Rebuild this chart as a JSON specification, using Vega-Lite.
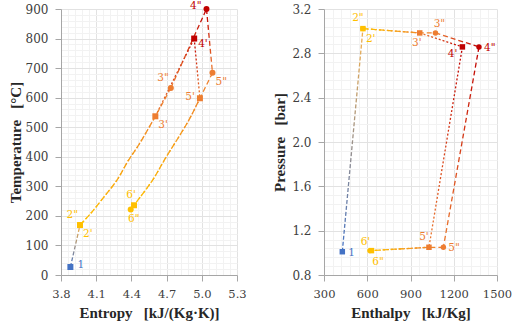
{
  "$schema": "https://vega.github.io/schema/vega-lite/v6.json",
  "padding": {"left": 8, "top": 1, "right": 5, "bottom": 5},
  "spacing": 25,
  "config": {
    "view": {"stroke": null},
    "style": {"guide-label": {"font": "DejaVu Serif", "fontSize": 12, "fill": "#404040"}, "guide-title": {"font": "Liberation Serif", "fontSize": 15, "fontWeight": "bold", "fill": "#262626"}},
    "axis": {
      "domainColor": "#a6a6a6", "tickColor": "#a6a6a6", "tickSize": 6,
      "labelFont": "DejaVu Serif", "labelFontSize": 12, "labelColor": "#404040",
      "titleFont": "Liberation Serif", "titleFontSize": 15, "titleFontWeight": "bold", "titleColor": "#262626",
      "labelOverlap": false, "labelFlush": false
    },
    "text": {"font": "DejaVu Serif", "fontSize": 10.5, "baseline": "middle"}
  },
  "datasets": {
    "ts_lines": [
      {"seg": "a", "path": "c", "o": 1, "s": 3.880, "T": 27},
      {"seg": "a", "path": "c", "o": 2, "s": 3.962, "T": 169},
      {"seg": "b", "path": "p", "o": 1, "s": 3.962, "T": 169},
      {"seg": "b", "path": "p", "o": 2, "s": 4.05, "T": 207},
      {"seg": "b", "path": "p", "o": 3, "s": 4.15, "T": 256},
      {"seg": "b", "path": "p", "o": 4, "s": 4.28, "T": 323},
      {"seg": "b", "path": "p", "o": 5, "s": 4.37, "T": 385},
      {"seg": "b", "path": "p", "o": 6, "s": 4.47, "T": 445},
      {"seg": "b", "path": "p", "o": 7, "s": 4.604, "T": 537},
      {"seg": "b", "path": "d", "o": 1, "s": 3.962, "T": 169},
      {"seg": "b", "path": "d", "o": 2, "s": 4.05, "T": 207},
      {"seg": "b", "path": "d", "o": 3, "s": 4.15, "T": 256},
      {"seg": "b", "path": "d", "o": 4, "s": 4.28, "T": 323},
      {"seg": "b", "path": "d", "o": 5, "s": 4.37, "T": 385},
      {"seg": "b", "path": "d", "o": 6, "s": 4.47, "T": 445},
      {"seg": "b", "path": "d", "o": 7, "s": 4.604, "T": 537},
      {"seg": "b", "path": "d", "o": 8, "s": 4.736, "T": 633},
      {"seg": "c", "path": "p", "o": 1, "s": 4.604, "T": 537},
      {"seg": "c", "path": "p", "o": 2, "s": 4.935, "T": 800},
      {"seg": "c", "path": "d", "o": 1, "s": 4.736, "T": 633},
      {"seg": "c", "path": "d", "o": 2, "s": 5.040, "T": 900},
      {"seg": "d", "path": "p", "o": 1, "s": 4.935, "T": 800},
      {"seg": "d", "path": "p", "o": 2, "s": 4.984, "T": 598},
      {"seg": "d", "path": "d", "o": 1, "s": 5.040, "T": 900},
      {"seg": "d", "path": "d", "o": 2, "s": 5.091, "T": 684},
      {"seg": "e", "path": "p", "o": 1, "s": 4.984, "T": 598},
      {"seg": "e", "path": "p", "o": 2, "s": 4.884, "T": 520},
      {"seg": "e", "path": "p", "o": 3, "s": 4.684, "T": 391},
      {"seg": "e", "path": "p", "o": 4, "s": 4.584, "T": 323},
      {"seg": "e", "path": "p", "o": 5, "s": 4.47, "T": 261},
      {"seg": "e", "path": "p", "o": 6, "s": 4.422, "T": 236},
      {"seg": "e", "path": "d", "o": 1, "s": 5.091, "T": 684},
      {"seg": "e", "path": "d", "o": 2, "s": 4.984, "T": 598},
      {"seg": "e", "path": "d", "o": 3, "s": 4.884, "T": 520},
      {"seg": "e", "path": "d", "o": 4, "s": 4.684, "T": 391},
      {"seg": "e", "path": "d", "o": 5, "s": 4.584, "T": 323},
      {"seg": "e", "path": "d", "o": 6, "s": 4.47, "T": 261},
      {"seg": "e", "path": "d", "o": 7, "s": 4.394, "T": 222}
    ],
    "ts_pts": [
      {"lab": "2\"", "st": "2", "path": "d", "s": 3.962, "T": 169},
      {"lab": "3\"", "st": "3", "path": "d", "s": 4.736, "T": 633},
      {"lab": "4\"", "st": "4", "path": "d", "s": 5.040, "T": 900},
      {"lab": "5\"", "st": "5", "path": "d", "s": 5.091, "T": 684},
      {"lab": "6\"", "st": "6", "path": "d", "s": 4.394, "T": 222},
      {"lab": "1", "st": "1", "path": "p", "s": 3.880, "T": 27},
      {"lab": "2'", "st": "2", "path": "p", "s": 3.962, "T": 169},
      {"lab": "3'", "st": "3", "path": "p", "s": 4.604, "T": 537},
      {"lab": "4'", "st": "4", "path": "p", "s": 4.935, "T": 800},
      {"lab": "5'", "st": "5", "path": "p", "s": 4.984, "T": 598},
      {"lab": "6'", "st": "6", "path": "p", "s": 4.422, "T": 236}
    ],
    "ph_lines": [
      {"seg": "a", "path": "c", "o": 1, "h": 427, "P": 1.01},
      {"seg": "a", "path": "c", "o": 2, "h": 570, "P": 3.023},
      {"seg": "b", "path": "p", "o": 1, "h": 570, "P": 3.023},
      {"seg": "b", "path": "p", "o": 2, "h": 964, "P": 2.984},
      {"seg": "b", "path": "d", "o": 1, "h": 570, "P": 3.023},
      {"seg": "b", "path": "d", "o": 2, "h": 964, "P": 2.984},
      {"seg": "b", "path": "d", "o": 3, "h": 1073, "P": 2.984},
      {"seg": "c", "path": "p", "o": 1, "h": 964, "P": 2.984},
      {"seg": "c", "path": "p", "o": 2, "h": 1260, "P": 2.858},
      {"seg": "c", "path": "d", "o": 1, "h": 1073, "P": 2.984},
      {"seg": "c", "path": "d", "o": 2, "h": 1375, "P": 2.858},
      {"seg": "d", "path": "p", "o": 1, "h": 1260, "P": 2.858},
      {"seg": "d", "path": "p", "o": 2, "h": 1028, "P": 1.05},
      {"seg": "d", "path": "d", "o": 1, "h": 1375, "P": 2.858},
      {"seg": "d", "path": "d", "o": 2, "h": 1128, "P": 1.05},
      {"seg": "e", "path": "p", "o": 1, "h": 1028, "P": 1.05},
      {"seg": "e", "path": "p", "o": 2, "h": 629, "P": 1.02},
      {"seg": "e", "path": "d", "o": 1, "h": 1128, "P": 1.05},
      {"seg": "e", "path": "d", "o": 2, "h": 1028, "P": 1.05},
      {"seg": "e", "path": "d", "o": 3, "h": 619, "P": 1.02}
    ],
    "ph_pts": [
      {"lab": "2\"", "st": "2", "path": "d", "h": 570, "P": 3.023},
      {"lab": "3\"", "st": "3", "path": "d", "h": 1073, "P": 2.984},
      {"lab": "4\"", "st": "4", "path": "d", "h": 1375, "P": 2.858},
      {"lab": "5\"", "st": "5", "path": "d", "h": 1128, "P": 1.05},
      {"lab": "6\"", "st": "6", "path": "d", "h": 619, "P": 1.02},
      {"lab": "1", "st": "1", "path": "p", "h": 427, "P": 1.01},
      {"lab": "2'", "st": "2", "path": "p", "h": 570, "P": 3.023},
      {"lab": "3'", "st": "3", "path": "p", "h": 964, "P": 2.984},
      {"lab": "4'", "st": "4", "path": "p", "h": 1260, "P": 2.858},
      {"lab": "5'", "st": "5", "path": "p", "h": 1028, "P": 1.05},
      {"lab": "6'", "st": "6", "path": "p", "h": 629, "P": 1.02}
    ]
  },
  "hconcat": [
    {
      "width": 176, "height": 266,
      "encoding": {
        "x": {"field": "s", "type": "quantitative",
          "scale": {"domain": [3.8, 5.3], "nice": false, "zero": false},
          "axis": {"title": "Entropy\u00a0\u00a0\u00a0[kJ/(Kg·K)]",
            "labelFont": "DejaVu Serif", "labelFontSize": 11.5,
            "values": [3.8,3.86,3.92,3.98,4.04,4.1,4.16,4.22,4.28,4.34,4.4,4.46,4.52,4.58,4.64,4.7,4.76,4.82,4.88,4.94,5,5.06,5.12,5.18,5.24,5.3],
            "labelExpr": "abs((datum.value*10) % 3 - 2) < 0.01 ? format(datum.value, '.1f') : ''",
            "gridColor": {"condition": {"test": "abs((datum.value*10) % 3 - 2) < 0.01", "value": "#e2e2e2"}, "value": "#f2f2f2"},
            "tickOpacity": {"condition": {"test": "abs((datum.value*10) % 3 - 2) < 0.01", "value": 1}, "value": 0},
            "labelPadding": 7, "titlePadding": 6}},
        "y": {"field": "T", "type": "quantitative",
          "scale": {"domain": [0, 900], "nice": false},
          "axis": {"title": "Temperature\u00a0\u00a0\u00a0[°C]",
            "labelFont": "DejaVu Serif", "labelFontSize": 12,
            "values": [0,20,40,60,80,100,120,140,160,180,200,220,240,260,280,300,320,340,360,380,400,420,440,460,480,500,520,540,560,580,600,620,640,660,680,700,720,740,760,780,800,820,840,860,880,900],
            "labelExpr": "datum.value % 100 === 0 ? format(datum.value, 'd') : ''",
            "gridColor": {"condition": {"test": "datum.value % 100 === 0", "value": "#e2e2e2"}, "value": "#f2f2f2"},
            "tickOpacity": {"condition": {"test": "datum.value % 100 === 0", "value": 1}, "value": 0},
            "labelPadding": 7, "titlePadding": 2}}
      },
      "layer": [
        {"data": {"name": "ts_lines"}, "transform": [{"filter": {"field": "seg", "equal": "a"}}],
         "mark": {"type": "line", "strokeWidth": 1.3, "stroke": {"gradient": "linear", "x1": 0, "y1": 1, "x2": 0, "y2": 0, "stops": [{"offset": 0, "color": "#4472C4"}, {"offset": 1, "color": "#F5B04A"}]}},
         "encoding": {"detail": {"field": "seg"}, "order": {"field": "o", "type": "quantitative"},
           "strokeDash": {"field": "path", "type": "nominal", "scale": {"domain": ["c", "p", "d"], "range": [[4, 2], [2, 2], [5, 3]]}, "legend": null}}},
        {"data": {"name": "ts_lines"}, "transform": [{"filter": {"field": "seg", "oneOf": ["b", "e"]}}],
         "mark": {"type": "line", "strokeWidth": 1.3, "interpolate": "catmull-rom", "stroke": {"gradient": "linear", "x1": 0, "y1": 1, "x2": 0, "y2": 0, "stops": [{"offset": 0, "color": "#FFC000"}, {"offset": 1, "color": "#ED7D31"}]}},
         "encoding": {"detail": {"field": "seg"}, "order": {"field": "o", "type": "quantitative"},
           "strokeDash": {"field": "path", "type": "nominal", "legend": null}}},
        {"data": {"name": "ts_lines"}, "transform": [{"filter": {"field": "seg", "oneOf": ["c", "d"]}}],
         "mark": {"type": "line", "strokeWidth": 1.3, "stroke": {"gradient": "linear", "x1": 0, "y1": 1, "x2": 0, "y2": 0, "stops": [{"offset": 0, "color": "#ED7D31"}, {"offset": 1, "color": "#C00000"}]}},
         "encoding": {"detail": {"field": "seg"}, "order": {"field": "o", "type": "quantitative"},
           "strokeDash": {"field": "path", "type": "nominal", "legend": null}}},
        {"data": {"name": "ts_pts"},
         "mark": {"type": "point", "filled": true, "opacity": 1, "size": 36},
         "encoding": {
           "color": {"field": "st", "type": "nominal", "scale": {"domain": ["1", "2", "3", "4", "5", "6"], "range": ["#4472C4", "#FFC000", "#ED7D31", "#C00000", "#ED7D31", "#FFC000"]}, "legend": null},
           "shape": {"field": "path", "type": "nominal", "scale": {"domain": ["p", "d"], "range": ["square", "circle"]}, "legend": null}}},
        {"data": {"name": "ts_pts"}, "transform": [{"filter": {"field": "lab", "oneOf": ["1"]}}],
         "mark": {"type": "text", "align": "left", "dx": 7, "dy": -2}, "encoding": {"text": {"field": "lab"}, "color": {"field": "st", "type": "nominal", "legend": null}}},
        {"data": {"name": "ts_pts"}, "transform": [{"filter": {"field": "lab", "oneOf": ["2'", "3'", "5\""]}}],
         "mark": {"type": "text", "align": "left", "dx": 3, "dy": 9}, "encoding": {"text": {"field": "lab"}, "color": {"field": "st", "type": "nominal", "legend": null}}},
        {"data": {"name": "ts_pts"}, "transform": [{"filter": {"field": "lab", "oneOf": ["4'"]}}],
         "mark": {"type": "text", "align": "left", "dx": 4, "dy": 5}, "encoding": {"text": {"field": "lab"}, "color": {"field": "st", "type": "nominal", "legend": null}}},
        {"data": {"name": "ts_pts"}, "transform": [{"filter": {"field": "lab", "oneOf": ["2\"", "3\""]}}],
         "mark": {"type": "text", "align": "right", "dx": -2, "dy": -10}, "encoding": {"text": {"field": "lab"}, "color": {"field": "st", "type": "nominal", "legend": null}}},
        {"data": {"name": "ts_pts"}, "transform": [{"filter": {"field": "lab", "oneOf": ["4\""]}}],
         "mark": {"type": "text", "align": "right", "dx": -5, "dy": -3}, "encoding": {"text": {"field": "lab"}, "color": {"field": "st", "type": "nominal", "legend": null}}},
        {"data": {"name": "ts_pts"}, "transform": [{"filter": {"field": "lab", "oneOf": ["5'"]}}],
         "mark": {"type": "text", "align": "right", "dx": -5, "dy": -1}, "encoding": {"text": {"field": "lab"}, "color": {"field": "st", "type": "nominal", "legend": null}}},
        {"data": {"name": "ts_pts"}, "transform": [{"filter": {"field": "lab", "oneOf": ["6'"]}}],
         "mark": {"type": "text", "align": "center", "dx": -3, "dy": -10}, "encoding": {"text": {"field": "lab"}, "color": {"field": "st", "type": "nominal", "legend": null}}},
        {"data": {"name": "ts_pts"}, "transform": [{"filter": {"field": "lab", "oneOf": ["6\""]}}],
         "mark": {"type": "text", "align": "center", "dx": 3, "dy": 10}, "encoding": {"text": {"field": "lab"}, "color": {"field": "st", "type": "nominal", "legend": null}}}
      ]
    },
    {
      "width": 173, "height": 266,
      "encoding": {
        "x": {"field": "h", "type": "quantitative",
          "scale": {"domain": [300, 1500], "nice": false, "zero": false},
          "axis": {"title": "Enthalpy\u00a0\u00a0\u00a0[kJ/Kg]",
            "labelFont": "DejaVu Serif", "labelFontSize": 11.5,
            "values": [300,360,420,480,540,600,660,720,780,840,900,960,1020,1080,1140,1200,1260,1320,1380,1440,1500],
            "labelExpr": "datum.value % 300 === 0 ? format(datum.value, 'd') : ''",
            "gridColor": {"condition": {"test": "datum.value % 300 === 0", "value": "#e2e2e2"}, "value": "#f2f2f2"},
            "tickOpacity": {"condition": {"test": "datum.value % 300 === 0", "value": 1}, "value": 0},
            "labelPadding": 7, "titlePadding": 6}},
        "y": {"field": "P", "type": "quantitative",
          "scale": {"domain": [0.8, 3.2], "nice": false, "zero": false},
          "axis": {"title": "Pressure\u00a0\u00a0\u00a0[bar]",
            "labelFont": "DejaVu Serif", "labelFontSize": 12,
            "values": [0.8,0.88,0.96,1.04,1.12,1.2,1.28,1.36,1.44,1.52,1.6,1.68,1.76,1.84,1.92,2,2.08,2.16,2.24,2.32,2.4,2.48,2.56,2.64,2.72,2.8,2.88,2.96,3.04,3.12,3.2],
            "labelExpr": "abs(datum.value*2.5 - round(datum.value*2.5)) < 0.01 ? format(datum.value, '.1f') : ''",
            "gridColor": {"condition": {"test": "abs(datum.value*2.5 - round(datum.value*2.5)) < 0.01", "value": "#e2e2e2"}, "value": "#f2f2f2"},
            "tickOpacity": {"condition": {"test": "abs(datum.value*2.5 - round(datum.value*2.5)) < 0.01", "value": 1}, "value": 0},
            "labelPadding": 7, "titlePadding": 4}}
      },
      "layer": [
        {"data": {"name": "ph_lines"}, "transform": [{"filter": {"field": "seg", "equal": "a"}}],
         "mark": {"type": "line", "strokeWidth": 1.3, "stroke": {"gradient": "linear", "x1": 0, "y1": 1, "x2": 0, "y2": 0, "stops": [{"offset": 0, "color": "#4472C4"}, {"offset": 1, "color": "#F5B04A"}]}},
         "encoding": {"detail": {"field": "seg"}, "order": {"field": "o", "type": "quantitative"},
           "strokeDash": {"field": "path", "type": "nominal", "scale": {"domain": ["c", "p", "d"], "range": [[4, 2], [2, 2], [5, 3]]}, "legend": null}}},
        {"data": {"name": "ph_lines"}, "transform": [{"filter": {"field": "seg", "oneOf": ["b", "e"]}}],
         "mark": {"type": "line", "strokeWidth": 1.3, "stroke": {"gradient": "linear", "x1": 0, "y1": 0, "x2": 1, "y2": 0, "stops": [{"offset": 0, "color": "#FFC000"}, {"offset": 1, "color": "#ED7D31"}]}},
         "encoding": {"detail": {"field": "seg"}, "order": {"field": "o", "type": "quantitative"},
           "strokeDash": {"field": "path", "type": "nominal", "legend": null}}},
        {"data": {"name": "ph_lines"}, "transform": [{"filter": {"field": "seg", "equal": "c"}}],
         "mark": {"type": "line", "strokeWidth": 1.3, "stroke": {"gradient": "linear", "x1": 0, "y1": 0, "x2": 1, "y2": 0, "stops": [{"offset": 0, "color": "#ED7D31"}, {"offset": 1, "color": "#C00000"}]}},
         "encoding": {"detail": {"field": "seg"}, "order": {"field": "o", "type": "quantitative"},
           "strokeDash": {"field": "path", "type": "nominal", "legend": null}}},
        {"data": {"name": "ph_lines"}, "transform": [{"filter": {"field": "seg", "equal": "d"}}],
         "mark": {"type": "line", "strokeWidth": 1.3, "stroke": {"gradient": "linear", "x1": 0, "y1": 1, "x2": 0, "y2": 0, "stops": [{"offset": 0, "color": "#ED7D31"}, {"offset": 1, "color": "#C00000"}]}},
         "encoding": {"detail": {"field": "seg"}, "order": {"field": "o", "type": "quantitative"},
           "strokeDash": {"field": "path", "type": "nominal", "legend": null}}},
        {"data": {"name": "ph_pts"},
         "mark": {"type": "point", "filled": true, "opacity": 1, "size": 30},
         "encoding": {
           "color": {"field": "st", "type": "nominal", "scale": {"domain": ["1", "2", "3", "4", "5", "6"], "range": ["#4472C4", "#FFC000", "#ED7D31", "#C00000", "#ED7D31", "#FFC000"]}, "legend": null},
           "shape": {"field": "path", "type": "nominal", "scale": {"domain": ["p", "d"], "range": ["square", "circle"]}, "legend": null}}},
        {"data": {"name": "ph_pts"}, "transform": [{"filter": {"field": "lab", "oneOf": ["1"]}}],
         "mark": {"type": "text", "align": "left", "dx": 6, "dy": 1}, "encoding": {"text": {"field": "lab"}, "color": {"field": "st", "type": "nominal", "legend": null}}},
        {"data": {"name": "ph_pts"}, "transform": [{"filter": {"field": "lab", "oneOf": ["2\""]}}],
         "mark": {"type": "text", "align": "center", "dx": -5, "dy": -11}, "encoding": {"text": {"field": "lab"}, "color": {"field": "st", "type": "nominal", "legend": null}}},
        {"data": {"name": "ph_pts"}, "transform": [{"filter": {"field": "lab", "oneOf": ["2'"]}}],
         "mark": {"type": "text", "align": "left", "dx": 3, "dy": 10}, "encoding": {"text": {"field": "lab"}, "color": {"field": "st", "type": "nominal", "legend": null}}},
        {"data": {"name": "ph_pts"}, "transform": [{"filter": {"field": "lab", "oneOf": ["3'"]}}],
         "mark": {"type": "text", "align": "center", "dx": -3, "dy": 10}, "encoding": {"text": {"field": "lab"}, "color": {"field": "st", "type": "nominal", "legend": null}}},
        {"data": {"name": "ph_pts"}, "transform": [{"filter": {"field": "lab", "oneOf": ["3\""]}}],
         "mark": {"type": "text", "align": "center", "dx": 4, "dy": -9}, "encoding": {"text": {"field": "lab"}, "color": {"field": "st", "type": "nominal", "legend": null}}},
        {"data": {"name": "ph_pts"}, "transform": [{"filter": {"field": "lab", "oneOf": ["4'"]}}],
         "mark": {"type": "text", "align": "right", "dx": -5, "dy": 7}, "encoding": {"text": {"field": "lab"}, "color": {"field": "st", "type": "nominal", "legend": null}}},
        {"data": {"name": "ph_pts"}, "transform": [{"filter": {"field": "lab", "oneOf": ["4\"", "5\""]}}],
         "mark": {"type": "text", "align": "left", "dx": 5, "dy": 1}, "encoding": {"text": {"field": "lab"}, "color": {"field": "st", "type": "nominal", "legend": null}}},
        {"data": {"name": "ph_pts"}, "transform": [{"filter": {"field": "lab", "oneOf": ["5'"]}}],
         "mark": {"type": "text", "align": "center", "dx": -5, "dy": -10}, "encoding": {"text": {"field": "lab"}, "color": {"field": "st", "type": "nominal", "legend": null}}},
        {"data": {"name": "ph_pts"}, "transform": [{"filter": {"field": "lab", "oneOf": ["6'"]}}],
         "mark": {"type": "text", "align": "center", "dx": -6, "dy": -9}, "encoding": {"text": {"field": "lab"}, "color": {"field": "st", "type": "nominal", "legend": null}}},
        {"data": {"name": "ph_pts"}, "transform": [{"filter": {"field": "lab", "oneOf": ["6\""]}}],
         "mark": {"type": "text", "align": "center", "dx": 8, "dy": 11}, "encoding": {"text": {"field": "lab"}, "color": {"field": "st", "type": "nominal", "legend": null}}}
      ]
    }
  ]
}
